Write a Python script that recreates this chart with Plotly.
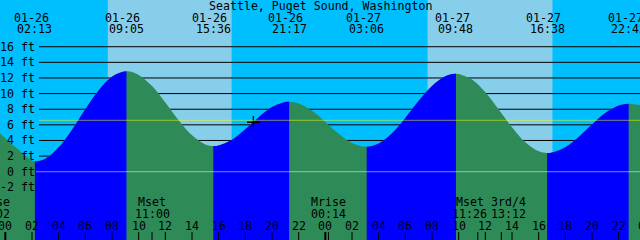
import plotly.graph_objects as go

# ---------------- data (hours counted from 2026-01-26 00:00) ----------------
title_text = "Seattle, Puget Sound, Washington"

tide_days = [26, 26, 26, 26, 27, 27, 27, 27]
tide_clock = ["02:13", "09:05", "15:36", "21:17", "03:06", "09:48", "16:38", "22:45"]
tide_kind = ["L", "H", "L", "H", "L", "H", "L", "H"]
tide_heights = [1.3, 12.85, 3.3, 8.95, 3.2, 12.55, 2.4, 8.7]

curve_hours = [-1, 0, 1, 2, 3, 4, 5, 6, 7, 8, 10, 11, 12, 13, 14, 15, 16, 17, 18,
               19, 20, 21, 22, 23, 24, 25, 26, 28, 29, 30, 31, 32, 33, 35, 36, 37,
               38, 39, 40, 41, 42, 43, 44, 45, 46, 47, 48]
curve_heights = [5.9, 4.3, 2.8, 1.45, 1.66, 3.12, 5.38, 8.0, 10.43, 12.16, 12.39,
                 10.96, 8.86, 6.58, 4.66, 3.50, 3.37, 4.10, 5.44, 6.98, 8.27, 8.92,
                 8.74, 7.80, 6.37, 4.86, 3.69, 3.61, 4.93, 6.89, 9.07, 10.98, 12.22,
                 11.80, 10.16, 7.98, 5.68, 3.76, 2.61, 2.46, 3.14, 4.46, 6.04, 7.51,
                 8.47, 8.68, 8.45]

sun_days = [26, 26, 27, 27]
sun_clock = ["07:41", "16:59", "07:40", "17:03"]

moon_days = [25, 26, 27, 27, 27]
moon_clock = ["23:02", "11:00", "00:14", "11:26", "13:12"]
moon_names = ["Mrise", "Mset", "Mrise", "Mset", "3rd/4"]
moon_label_shift = [0, 0, 0, -8, 7]   # px, label de-overlap

now_day, now_clock, now_height = 26, "18:36", 6.33
msl_height = 6.58
y_ticks = [-2, 0, 2, 4, 6, 8, 10, 12, 14, 16]
hour_ticks = list(range(0, 49, 2))

# ---------------- layout constants ----------------
W, H = 640, 240
X0, X1 = -0.4, 47.6
Y0, Y1 = -8.74, 21.98
NIGHT, DAY = "#00BFFF", "#87CEEB"
FLOOD, EBB = "#0000FF", "#2E8B57"
FONT = dict(family="DejaVu Sans Mono", size=11.6, color="black")


def to_h(day, clock):
    hh, mm = map(int, clock.split(":"))
    return (day - 26) * 24 + hh + mm / 60.0


def py(p):
    return 1 - p / H


def tx(t):  # paper fraction for a time (for labels that may sit off-range)
    return (t - X0) / (X1 - X0)


tide_hours = [to_h(d, c) for d, c in zip(tide_days, tide_clock)]
pts = sorted(list(zip(curve_hours, curve_heights)) + list(zip(tide_hours, tide_heights)))
ct = [p[0] for p in pts]
ch = [p[1] for p in pts]

fig = go.Figure()
layout = dict(
    width=W, height=H, margin=dict(l=0, r=0, t=0, b=0),
    paper_bgcolor=NIGHT, plot_bgcolor="rgba(0,0,0,0)", showlegend=False,
    xaxis=dict(range=[X0, X1], domain=[0, 1], visible=False, fixedrange=True),
    yaxis=dict(range=[Y0, Y1], domain=[0, 1], visible=False, fixedrange=True),
)


def add_water(xa, ya, color):
    fig.add_trace(go.Scatter(x=[ct[0], ct[-1]], y=[Y0 - 2, Y0 - 2], mode="lines",
                             line=dict(width=0), xaxis=xa, yaxis=ya, hoverinfo="skip"))
    fig.add_trace(go.Scatter(x=ct, y=ch, mode="lines", fill="tonexty", fillcolor=color,
                             line=dict(width=0, shape="spline", smoothing=1),
                             xaxis=xa, yaxis=ya, hoverinfo="skip"))


# ebb water everywhere on main subplot
add_water("x", "y", EBB)

# flood water clipped to rising intervals via dedicated subplots
idx = 2
for i in range(len(tide_hours) - 1):
    if tide_kind[i] == "L" and tide_kind[i + 1] == "H":
        a, b = tide_hours[i], tide_hours[i + 1]
        layout[f"xaxis{idx}"] = dict(range=[a, b], domain=[tx(a), tx(b)], anchor=f"y{idx}",
                                     visible=False, fixedrange=True)
        layout[f"yaxis{idx}"] = dict(range=[Y0, Y1], domain=[0, 1], anchor=f"x{idx}",
                                     visible=False, fixedrange=True)
        add_water(f"x{idx}", f"y{idx}", FLOOD)
        idx += 1

# top subplot for the current-time marker
layout[f"xaxis{idx}"] = dict(range=[X0, X1], domain=[0, 1], anchor=f"y{idx}",
                             visible=False, fixedrange=True)
layout[f"yaxis{idx}"] = dict(range=[Y0, Y1], domain=[0, 1], anchor=f"x{idx}",
                             visible=False, fixedrange=True)
fig.add_trace(go.Scatter(x=[to_h(now_day, now_clock)], y=[now_height], mode="markers",
                         marker=dict(symbol="cross-thin", size=9,
                                     line=dict(color="black", width=1.3)),
                         xaxis=f"x{idx}", yaxis=f"y{idx}", hoverinfo="skip"))

shapes = []
# sky: night/day
sun_hours = [to_h(d, c) for d, c in zip(sun_days, sun_clock)]
bounds = [X0] + sun_hours + [X1]
for k in range(len(bounds) - 1):
    shapes.append(dict(type="rect", xref="x", yref="paper", x0=bounds[k], x1=bounds[k + 1],
                       y0=0, y1=1, fillcolor=NIGHT if k % 2 == 0 else DAY,
                       line=dict(width=0), layer="below"))
# grid lines (under the water)
for v in y_ticks:
    shapes.append(dict(type="line", xref="paper", yref="y", x0=39 / W, x1=1, y0=v, y1=v,
                       line=dict(color="black", width=1), layer="below"))
# datum and mean sea level (over the water)
shapes.append(dict(type="line", xref="paper", yref="y", x0=36 / W, x1=1, y0=0, y1=0,
                   line=dict(color="white", width=1), opacity=0.5, layer="above"))
shapes.append(dict(type="line", xref="paper", yref="y", x0=39 / W, x1=1, y0=msl_height,
                   y1=msl_height, line=dict(color="yellow", width=1), opacity=0.5,
                   layer="above"))
# hour ticks
for hr in hour_ticks:
    if X0 <= hr <= X1:
        shapes.append(dict(type="line", xref="x", yref="paper", x0=hr, x1=hr,
                           y0=0, y1=py(232),
                           line=dict(color="black", width=2 if hr % 24 == 0 else 1),
                           layer="above"))
# moon ticks
moon_hours = [to_h(d, c) for d, c in zip(moon_days, moon_clock)]
for mh in moon_hours:
    if X0 <= mh <= X1:
        shapes.append(dict(type="line", xref="x", yref="paper", x0=mh, x1=mh,
                           y0=0, y1=py(232), line=dict(color="black", width=1),
                           layer="above"))

ann = []
ann.append(dict(text=title_text, xref="paper", yref="paper", x=0.5, y=py(5.5)))
for d, c, t in zip(tide_days, tide_clock, tide_hours):
    ann.append(dict(text=f"01-{d:02d}", xref="paper", yref="paper", x=tx(t), y=py(18),
                    xshift=-3.5))
    ann.append(dict(text=c, xref="paper", yref="paper", x=tx(t), y=py(29)))
for v in y_ticks:
    ann.append(dict(text=f"{v} ft", xref="paper", yref="y", x=36 / W, y=v,
                    xanchor="right"))
for hr in hour_ticks:
    ann.append(dict(text=f"{hr % 24:02d}", xref="paper", yref="paper", x=tx(hr), y=py(226)))
for n, c, t, s in zip(moon_names, moon_clock, moon_hours, moon_label_shift):
    ann.append(dict(text=n, xref="paper", yref="paper", x=tx(t), y=py(202), xshift=s))
    ann.append(dict(text=c, xref="paper", yref="paper", x=tx(t), y=py(214), xshift=s))
for a in ann:
    a.setdefault("xanchor", "center")
    a.update(showarrow=False, yanchor="middle", font=FONT, borderpad=0)

layout["shapes"] = shapes
layout["annotations"] = ann
fig.update_layout(**layout)
fig.write_html("out.html", config={"displayModeBar": False})
